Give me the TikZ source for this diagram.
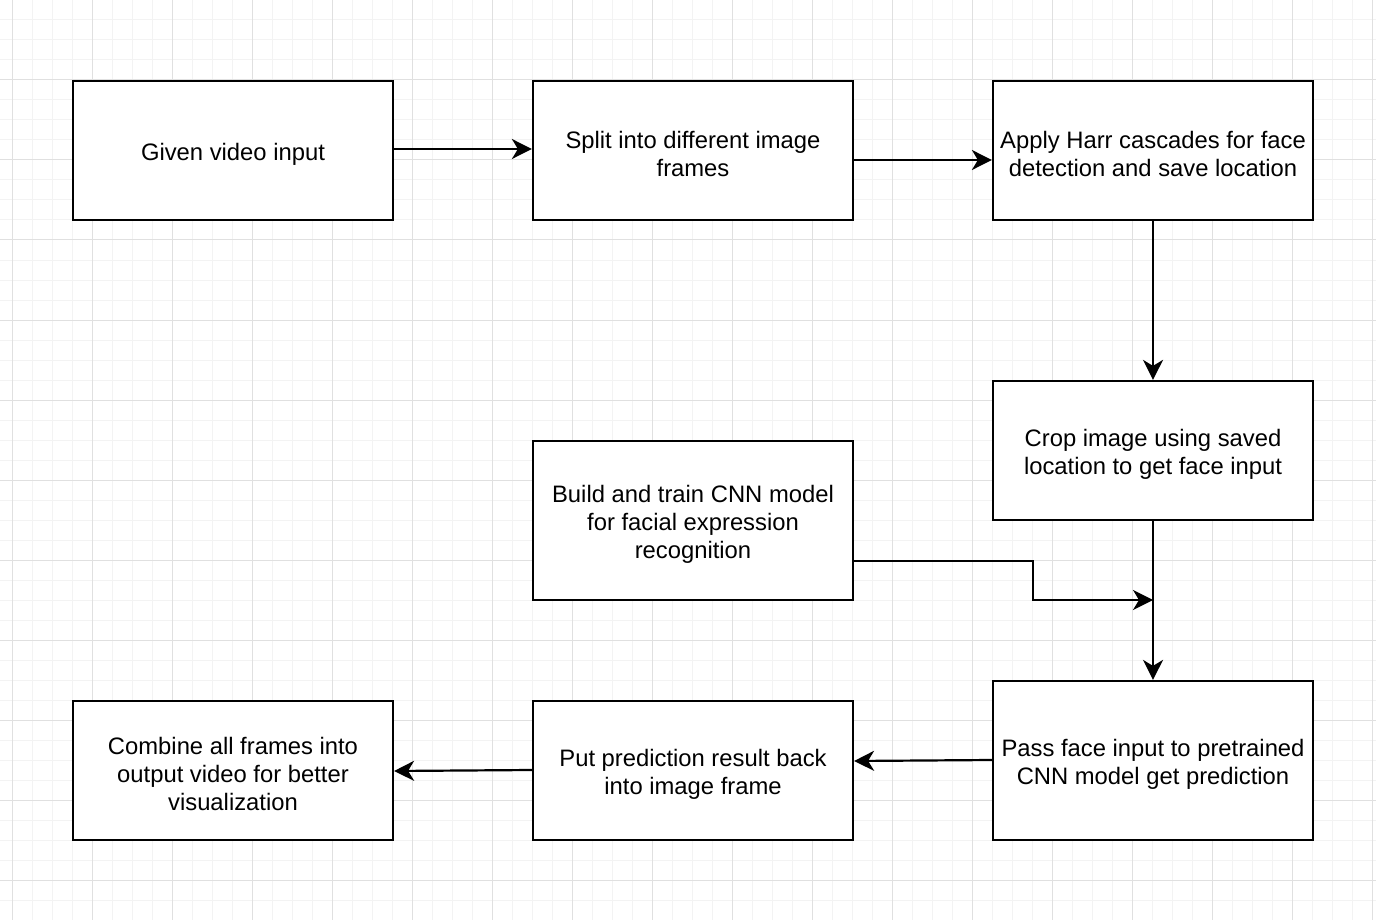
\documentclass[tikz,border=0pt]{standalone}
\usepackage{fontspec}
\setmainfont{Liberation Sans}
\usetikzlibrary{arrows.meta}
\definecolor{gridminor}{HTML}{F3F3F3}
\definecolor{gridmajor}{HTML}{E0E0E0}
\begin{document}
\begin{tikzpicture}[x=1pt,y=-1pt,
  stepbox/.style={draw=black,line width=2.2pt,fill=white,minimum width=320pt,minimum height=139pt,inner sep=0pt},
  tallbox/.style={stepbox,minimum height=159pt},
  steptext/.style={align=center,font=\fontsize{23.8}{28}\selectfont,inner sep=0pt,yshift=-3.5pt},
  flow/.style={draw=black,line width=2.2pt,-{Stealth[length=20pt,width=20pt,inset=6pt]}}]
% canvas and grid
\useasboundingbox (0,0) rectangle (1376,920);
\fill[white] (0,0) rectangle (1376,920);
\foreach \x in {32,52,...,1372} \draw[gridminor,line width=1pt] (\x,0) -- (\x,920);
\foreach \y in {20,40,...,920} \draw[gridminor,line width=1pt] (0,\y) -- (1376,\y);
\foreach \x in {12,92,...,1372} \draw[gridmajor,line width=1pt] (\x,0) -- (\x,920);
\foreach \y in {0,80,...,880} \draw[gridmajor,line width=1pt] (0,\y) -- (1376,\y);
% process steps
\node[stepbox,label={[steptext]center:Given video input}] (input) at (233,150.5) {};
\node[stepbox,label={[steptext]center:Split into different image\\frames}] (split) at (693,150.5) {};
\node[stepbox,label={[steptext]center:Apply Harr cascades for face\\detection and save location}] (harr) at (1153,150.5) {};
\node[stepbox,label={[steptext]center:Crop image using saved\\location to get face input}] (crop) at (1153,450.5) {};
\node[tallbox,label={[steptext]center:Build and train CNN model\\for facial expression\\recognition}] (train) at (693,520.5) {};
\node[tallbox,label={[steptext]center:Pass face input to pretrained\\CNN model get prediction}] (pass) at (1153,760.5) {};
\node[stepbox,label={[steptext]center:Put prediction result back\\into image frame}] (put) at (693,770.5) {};
\node[stepbox,label={[steptext]center:Combine all frames into\\output video for better\\visualization}] (combine) at (233,770.5) {};
\coordinate (merge) at (1153,600);
% connectors
\draw[flow] (input.east |- 0,149) -- (split.west |- 0,149);
\draw[flow] (split.east |- 0,160) -- (harr.west |- 0,160);
\draw[flow] (harr.south) -- (crop.north);
\draw[flow] (crop.south) -- (pass.north);
\draw[flow] (train.east |- 0,561) -- (1033,561) -- (1033,600) -- (merge);
\draw[flow] (pass.west |- 0,760) -- (put.east |- 0,761);
\draw[flow] (put.west |- 0,770) -- (combine.east |- 0,771);
\end{tikzpicture}
\end{document}
